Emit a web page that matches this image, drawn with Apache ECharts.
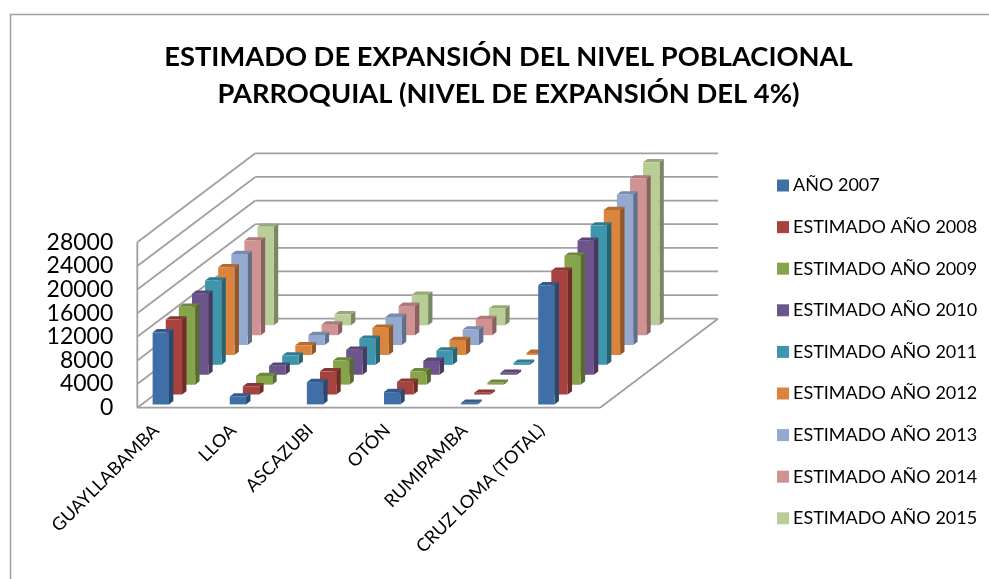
<!DOCTYPE html>
<html>
<head>
<meta charset="utf-8">
<style>html,body{margin:0;padding:0;background:#fff}#chart{width:989px;height:579px}</style>
<script src="https://cdn.jsdelivr.net/npm/echarts@6/dist/echarts.min.js"></script>
</head>
<body>
<div id="chart"></div>
<script>
// Parish population estimates, 2007 to 2015
const categories = ['GUAYLLABAMBA', 'LLOA', 'ASCAZUBI', 'OTÓN', 'RUMIPAMBA', 'CRUZ LOMA (TOTAL)'];
const seriesNames = ['AÑO 2007', 'ESTIMADO AÑO 2008', 'ESTIMADO AÑO 2009', 'ESTIMADO AÑO 2010', 'ESTIMADO AÑO 2011', 'ESTIMADO AÑO 2012', 'ESTIMADO AÑO 2013', 'ESTIMADO AÑO 2014', 'ESTIMADO AÑO 2015'];
const y2007 = [12190, 1350, 3770, 2080, 290, 20150];
const y2008 = [12680, 1400, 3920, 2160, 300, 20960];
const y2009 = [13180, 1460, 4080, 2250, 310, 21800];
const y2010 = [13710, 1520, 4240, 2340, 330, 22670];
const y2011 = [14260, 1580, 4410, 2430, 340, 23570];
const y2012 = [14830, 1640, 4590, 2530, 350, 24520];
const y2013 = [15420, 1710, 4770, 2630, 370, 25500];
const y2014 = [16040, 1780, 4960, 2740, 380, 26520];
const y2015 = [16680, 1850, 5160, 2850, 400, 27580];
const allYears = [y2007, y2008, y2009, y2010, y2011, y2012, y2013, y2014, y2015];
const colors = ['#3F6FA6', '#A8423F', '#86A44A', '#6E548D', '#3D96AE', '#DB843D', '#93A9CF', '#D19392', '#B9CD96'];
const valueTicks = [0, 4000, 8000, 12000, 16000, 20000, 24000, 28000];

// Oblique projection of the floor depth, in pixels across all nine rows
const depthX = 118;
const depthY = -89;
const rowCount = seriesNames.length;
const wallColor = '#A0A0A0';

function shade(hex, k) {
  const n = parseInt(hex.slice(1), 16);
  const c = [(n >> 16) & 255, (n >> 8) & 255, n & 255].map(v => Math.round(v * k));
  return 'rgb(' + c.join(',') + ')';
}

function barItem(row) {
  return function (params, api) {
    const cat = api.value(0);
    const top = api.coord([cat, api.value(1)]);
    const base = api.coord([cat, 0]);
    const slot = api.size([1, 0])[0];
    const w = slot * 0.212;
    const left = top[0] - slot * 0.358;
    const sx = depthX / rowCount, sy = depthY / rowCount;
    const ox = sx * (row + 1 / 3), oy = sy * (row + 1 / 3);
    const dx = sx / 3, dy = sy / 3;
    const x0 = left + ox, x1 = x0 + w;
    const yT = top[1] + oy, yB = base[1] + oy;
    const c = colors[row];
    return {
      type: 'group',
      children: [
        { type: 'polygon', shape: { points: [[x1, yT], [x1 + dx, yT + dy], [x1 + dx, yB + dy], [x1, yB]] }, style: { fill: shade(c, 0.66) } },
        { type: 'polygon', shape: { points: [[x0, yT], [x1, yT], [x1 + dx, yT + dy], [x0 + dx, yT + dy]] }, style: { fill: shade(c, 0.82) } },
        { type: 'rect', shape: { x: x0, y: yT, width: w, height: yB - yT }, style: { fill: c } }
      ]
    };
  };
}

// Back and side walls plus the floor, one entry for each value tick
function wallItem(params, api) {
  const v = api.value(0);
  const p = api.coord([0, v]);
  const slot = api.size([1, 0])[0];
  const xL = p[0] - slot / 2;
  const xR = xL + slot * categories.length;
  const y = p[1];
  const line = (a, b, c, d) => ({
    type: 'line',
    shape: { x1: a, y1: b, x2: c, y2: d },
    style: { stroke: wallColor, lineWidth: 1.8 }
  });
  const parts = [
    line(xL, y, xL + depthX, y + depthY),
    line(xL + depthX, y + depthY, xR + depthX, y + depthY)
  ];
  if (v === 0) {
    parts.push(line(xR, y, xR + depthX, y + depthY));
    parts.push(line(xL, y, xR, y));
    const t = api.coord([0, valueTicks[valueTicks.length - 1]]);
    parts.push(line(xL, y, xL, t[1]));
  }
  return { type: 'group', children: parts };
}

const barSeries = seriesNames.map((name, row) => ({
  name,
  type: 'custom',
  z: 20 - row,
  itemStyle: { color: colors[row] },
  encode: { x: 0, y: 1 },
  renderItem: barItem(row),
  data: allYears[row].map((v, i) => [i, v])
}));

const chart = echarts.init(document.getElementById('chart'), null, { renderer: 'canvas' });
chart.setOption({
  animation: false,
  backgroundColor: '#fff',
  textStyle: { fontFamily: 'Lato' },
  title: {
    text: 'ESTIMADO DE EXPANSIÓN DEL NIVEL POBLACIONAL\nPARROQUIAL (NIVEL DE EXPANSIÓN DEL 4%)',
    left: 503.5, top: 33, textAlign: 'center',
    textStyle: { fontFamily: 'Lato', fontWeight: 'bold', fontSize: 27.3, lineHeight: 37.5, color: '#000' }
  },
  grid: { left: 137.3, top: 242.3, width: 462.7, height: 165.4 },
  legend: {
    orient: 'vertical', left: 772, top: 170,
    itemWidth: 12, itemHeight: 12, itemGap: 20.6,
    icon: 'rect',
    data: seriesNames,
    selectedMode: false,
    textStyle: { fontFamily: 'Lato', fontSize: 18, lineHeight: 21, color: '#000', padding: [0, 0, 0, -1] }
  },
  xAxis: {
    type: 'category', data: categories,
    axisLine: { show: false }, axisTick: { show: false },
    axisLabel: { rotate: 45, interval: 0, fontSize: 18, color: '#000', margin: 0, padding: [0, 28, 0, 0], fontFamily: 'Lato' }
  },
  yAxis: {
    type: 'value', min: 0, max: 28000, interval: 4000,
    axisLine: { show: false }, axisTick: { show: false }, splitLine: { show: false },
    axisLabel: { fontSize: 23, color: '#000', margin: 24, fontFamily: 'Lato', formatter: v => String(v) }
  },
  series: [{
    type: 'custom', name: 'walls', z: 1, silent: true,
    renderItem: wallItem, encode: { y: 0 },
    data: valueTicks.map(v => [v])
  }].concat(barSeries),
  graphic: [{
    type: 'rect', z: 0, silent: true,
    shape: { x: 10.5, y: 14.5, width: 985, height: 600 },
    style: { fill: 'none', stroke: '#A0A0A0', lineWidth: 1.5 }
  }]
});
</script>
</body>
</html>
